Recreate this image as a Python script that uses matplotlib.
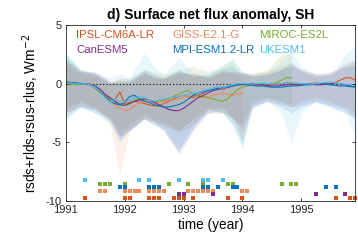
import numpy as np
import matplotlib
matplotlib.use("Agg")
import matplotlib.pyplot as plt

plt.rcParams['font.family'] = ['Liberation Sans', 'DejaVu Sans']
plt.rcParams['axes.unicode_minus'] = False

# model names and colours (MATLAB-ish order)
models = ["IPSL-CM6A-LR", "GISS-E2.1-G", "MIROC-ES2L", "CanESM5", "MPI-ESM1.2-LR", "UKESM1"]
colors = ["#D95319", "#F0885A", "#77AC30", "#7E2F8E", "#0072BD", "#4DBEEE"]

# monthly ensemble-mean anomaly, months since Jan 1991
ipsl = [0.1, 0.05, 0, 0, -0.05, -0.1, -0.3, -0.6, -1.0, -1.3, -1.4, -0.7, -1.7, -1.6, -1.5, -1.6, -1.7, -1.8, -1.9, -1.9,
        -1.7, -1.5, -1.3, -1.1, -1.0, -1.1, -1.2, -1.0, -0.8, -0.6, -0.4, -0.3, -0.5, -0.3, -0.2, -0.1, 0.0, -0.1, 0.0, -0.1,
        0.0, 0.0, -0.1, 0.0, -0.05, 0.1, 0.0, -0.1, -0.05, 0.0, 0.0, 0.05, 0.0, 0.0, -0.1, 0.1, 0.3, 0.5, 0.5, 0.3]
giss = [0.05, 0, 0, -0.05, -0.1, -0.1, -0.3, -0.6, -1.0, -1.4, -1.8, -2.1, -2.3, -2.2, -1.9, -1.6, -1.5, -1.5, -1.6, -1.6,
        -1.5, -1.4, -1.4, -1.3, -1.2, -1.1, -1.0, -1.1, -1.2, -1.1, -1.0, -0.9, -0.8, -0.9, -1.0, -0.9, -0.8]
miroc = [0.0, -0.05, -0.1, 0, 0, -0.1, -0.4, -0.8, -1.1, -1.3, -1.5, -1.7, -1.9, -1.7, -1.4, -1.3, -1.3, -1.4, -1.5, -1.5,
         -1.4, -1.3, -1.1, -0.9, -0.7, -0.6, -0.9, -1.1, -1.1, -1.2, -1.3, -1.4, -1.5, -1.3, -0.9, -0.5, -0.3, -0.2, -0.1, -0.1,
         0, -0.05, 0, 0.1, 0.3, 0.5, 0.5]
canesm = [0.1, 0.1, 0.05, 0, 0, -0.05, -0.2, -0.5, -0.9, -1.2, -1.5, -1.8, -1.85, -1.7, -1.5, -1.4, -1.3, -1.4, -1.6, -1.8,
          -2.0, -2.2, -2.3, -2.3, -2.1, -1.8, -1.5, -1.2, -1.0, -0.8, -0.6, -0.5, -0.4, -0.3, -0.2, -0.1, -0.1, -0.05, 0, -0.1,
          -0.1, -0.15, -0.2, -0.2, -0.15, -0.1, -0.1, -0.05, 0, 0, -0.05, -0.1, -0.1, -0.05, 0, 0.05, 0, -0.1, -0.2, -0.25]
mpi = [0.15, 0.1, 0.05, 0, 0, -0.1, -0.3, -0.7, -1.1, -1.5, -1.7, -1.8, -1.6, -1.1, -1.0, -1.3, -1.5, -1.6, -1.8, -1.9,
       -2.0, -2.0, -1.9, -1.8, -1.6, -1.3, -1.0, -0.8, -0.7, -0.6, -0.5, -0.4, -0.3, -0.3, -0.2, -0.1, 0, -0.1, -0.15, -0.2,
       -0.2, -0.25, -0.3, -0.3, -0.3, -0.25, -0.2, -0.2, -0.15, -0.1, -0.1, -0.05, 0.0, -0.05, -0.1, -0.15, -0.2, -0.2, -0.25, -0.3]
ukesm = [0.1, 0.05, 0, -0.05, 0, -0.1, -0.3, -0.7, -1.2, -1.6, -1.3, -1.5, -1.6, -1.4, -1.2, -1.1, -1.2, -1.4, -1.5, -1.4,
         -1.3, -1.2, -1.2, -1.1, -1.0, -0.9, -0.8, -0.8, -0.6, -0.5, -0.4, -0.3, -0.4, -0.2, -0.1, 0, 0, 0, -0.05, 0,
         0.05, 0, 0, -0.05, 0, 0.05, 0.1, 0.05, 0, 0, -0.05, 0, 0.05, 0.1, 0.15, 0.05, 0, -0.05, -0.1, -0.2]
means = [ipsl, giss, miroc, canesm, mpi, ukesm]

# ensemble spread, read at these months
band_months = [0, 3, 6, 9, 11, 13, 16, 18, 20, 23, 26, 29, 32, 34, 36, 38, 41, 44, 46, 48, 51, 54, 57, 59]
ipsl_lo = [-2.5, -1.8, -2.2, -3.0, -4.5, -3.8, -2.8, -3.2, -3.5, -4.2, -3.5, -2.2, -2.0, -2.8, -4.8, -1.8, -1.2, -1.6, -2.0, -1.5, -1.2, -1.6, -2.0, -2.5]
ipsl_hi = [2.0, 1.0, 0.8, 0.2, 0.3, 0.0, 1.0, 0.6, 0.5, 1.0, 0.8, 0.6, 1.2, 1.0, 0.8, 0.9, 1.0, 1.5, 1.8, 1.2, 0.8, 0.8, 1.8, 2.0]
giss_lo = [-2.0, -1.5, -2.0, -3.5, -7.8, -4.0, -3.0, -3.5, -3.5, -4.0, -3.0, -2.5, -2.5, -3.0, -3.5]
giss_hi = [1.5, 0.8, 0.6, 0.0, 0.5, 0.3, 0.8, 0.5, 0.6, 0.8, 0.9, 0.6, 1.0, 0.8, 0.6]
miroc_lo = [-2.2, -1.6, -2.0, -3.0, -4.0, -3.5, -2.5, -3.0, -3.2, -4.0, -3.0, -2.0, -2.5, -3.0, -3.5, -1.5, -1.2, -1.5, -1.8]
miroc_hi = [2.2, 1.2, 0.8, 0.0, 0.4, 0.5, 1.2, 1.0, 0.8, 1.2, 1.5, 1.0, 1.6, 2.0, 1.0, 0.8, 1.2, 2.5, 2.6]
canesm_lo = [-2.5, -2.0, -2.2, -3.0, -4.5, -4.0, -3.0, -3.2, -4.0, -6.0, -4.0, -2.5, -2.2, -3.0, -4.0, -2.0, -1.5, -1.8, -2.0, -1.8, -1.5, -1.8, -2.2, -3.0]
canesm_hi = [2.0, 1.0, 1.0, 0.2, 0.0, 0.2, 1.0, 0.5, 0.4, 1.0, 0.8, 0.5, 1.0, 1.0, 1.0, 0.7, 0.8, 1.2, 1.5, 1.2, 0.8, 1.0, 1.5, 1.5]
mpi_lo = [-3.0, -2.0, -2.5, -3.2, -4.8, -4.0, -3.0, -3.5, -4.0, -5.8, -3.8, -2.2, -2.5, -3.5, -5.2, -2.0, -1.5, -2.0, -2.5, -2.0, -1.6, -2.0, -2.5, -3.0]
mpi_hi = [2.5, 1.2, 0.8, 0.0, 0.2, 0.3, 1.2, 0.8, 0.5, 1.2, 0.6, 0.8, 1.3, 1.5, 0.8, 0.6, 0.8, 1.2, 1.8, 1.0, 0.6, 0.8, 1.5, 2.0]
ukesm_lo = [-2.8, -2.0, -2.5, -3.5, -5.0, -4.0, -3.0, -3.5, -3.8, -5.5, -3.5, -2.5, -2.5, -3.5, -5.5, -2.2, -1.5, -2.5, -5.2, -2.5, -1.5, -2.0, -2.5, -4.5]
ukesm_hi = [2.6, 1.2, 1.0, 0.5, 0.8, 0.5, 2.6, 1.5, 0.8, 2.2, 1.0, 0.8, 1.5, 2.2, 1.0, 0.8, 1.0, 2.0, 2.8, 1.5, 0.8, 0.8, 2.5, 3.3]
lows = [ipsl_lo, giss_lo, miroc_lo, canesm_lo, mpi_lo, ukesm_lo]
highs = [ipsl_hi, giss_hi, miroc_hi, canesm_hi, mpi_hi, ukesm_hi]

# months flagged as significant, one row per model
ipsl_sig = [4, 12, 13, 17, 18, 19, 22, 23, 24, 26, 33, 36, 55, 58, 59]
giss_sig = [7, 8, 12, 13, 14, 15, 17, 18, 19, 20, 25, 26, 27, 28, 29, 30, 36, 37]
miroc_sig = [7, 8, 9, 12, 21, 25, 28, 33, 34, 44, 46, 47]
canesm_sig = [23, 24, 30, 51, 57]
mpi_sig = [11, 12, 17, 18, 19, 28, 29, 31, 34, 35, 53, 55]
ukesm_sig = [4, 15, 17, 23, 28, 29, 32]
sig_months = [ipsl_sig, giss_sig, miroc_sig, canesm_sig, mpi_sig, ukesm_sig]
sig_rows = [-9.75, -9.15, -8.55, -9.45, -8.85, -8.25]

fig = plt.figure(figsize=(3.58, 2.45), dpi=100)
ax = fig.add_axes([0.184, 0.180, 0.808, 0.718])

for i in range(len(models)):
    bm = np.array(band_months[:len(lows[i])])
    ax.fill_between(1991 + bm / 12.0, lows[i], highs[i], color=colors[i], alpha=0.12, lw=0)

ax.axhline(0, color="k", ls=(0, (1, 2)), lw=0.8)

for i in range(len(models)):
    m = np.arange(len(means[i]))
    ax.plot(1991 + m / 12.0, means[i], color=colors[i], lw=0.8)

for i in range(len(models)):
    sm = np.array(sig_months[i])
    ax.plot(1991 + sm / 12.0, [sig_rows[i]] * len(sm), ls="none", marker="s",
            ms=2.6, mew=0, color=colors[i], clip_on=False)

# legend as coloured text
leg_pos = [(0.035, 0.943), (0.367, 0.943), (0.668, 0.943),
           (0.035, 0.858), (0.367, 0.858), (0.668, 0.858)]
for i in range(len(models)):
    ax.text(leg_pos[i][0], leg_pos[i][1], models[i], color=colors[i], fontsize=8.2,
            transform=ax.transAxes, ha="left", va="center")

ax.set_xlim(1991, 1991 + 59 / 12.0)
ax.set_ylim(-10, 5)
ax.set_xticks([1991, 1992, 1993, 1994, 1995])
ax.set_yticks([-10, -5, 0, 5])
ax.tick_params(direction="in", length=2.5, width=0.6, labelsize=8, top=True, right=True,
               colors="#262626", pad=3)
for s in ax.spines.values():
    s.set_color("#262626")
    s.set_linewidth(0.6)

ax.set_title("d) Surface net flux anomaly, SH", fontsize=10, fontweight="bold", pad=4)
ax.set_xlabel("time (year)", fontsize=9.8, labelpad=2)
ax.set_ylabel("rsds+rlds-rsus-rlus, Wm$^{-2}$", fontsize=9.8, labelpad=3)

fig.savefig("out.png", dpi=100)
